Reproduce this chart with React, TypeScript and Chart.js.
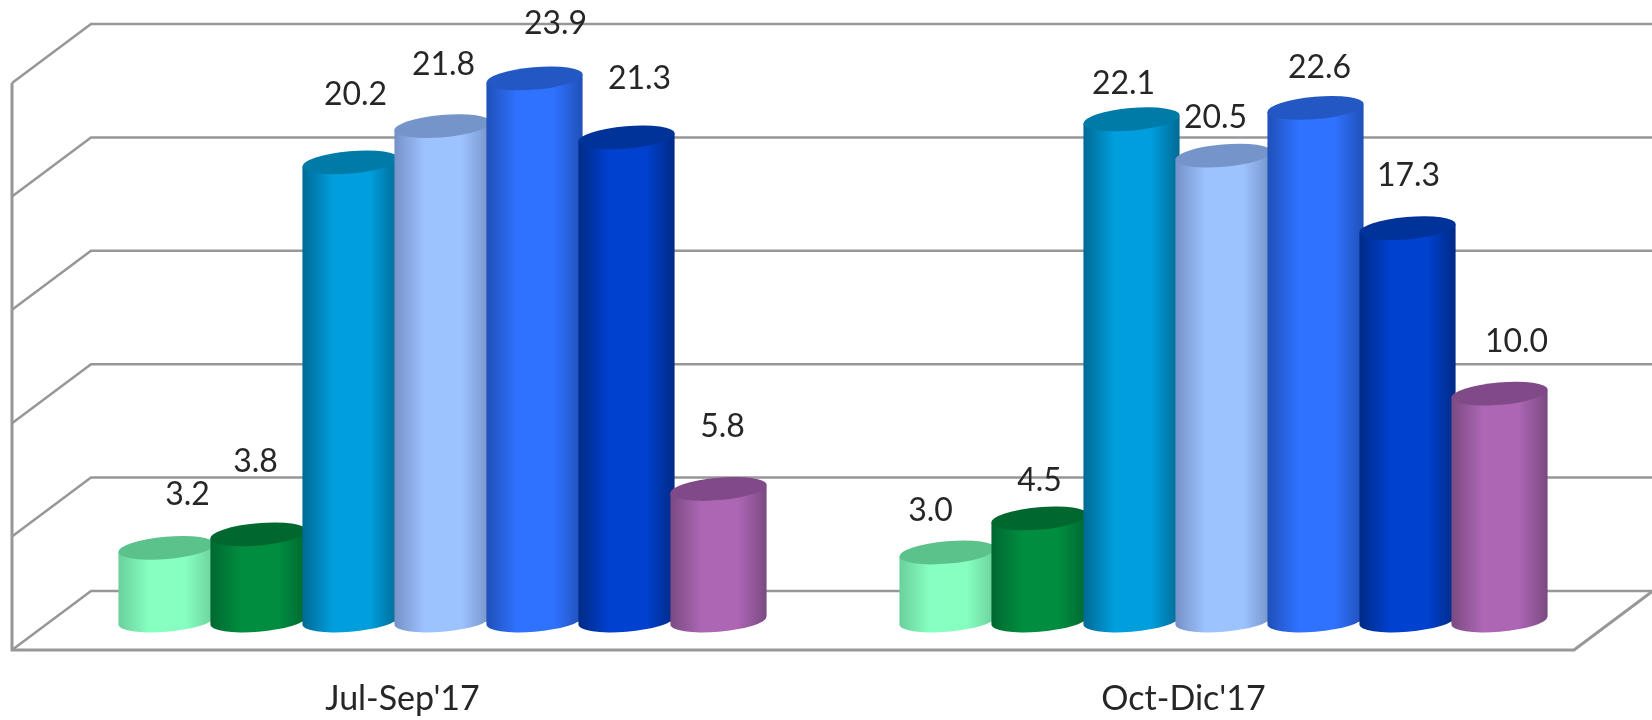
import React, { useEffect, useRef } from "react";
import { Chart, registerables } from "chart.js";

Chart.register(...registerables);

const categories = ["Jul-Sep'17", "Oct-Dic'17"];
const serieA = [3.2, 3.0];
const serieB = [3.8, 4.5];
const serieC = [20.2, 22.1];
const serieD = [21.8, 20.5];
const serieE = [23.9, 22.6];
const serieF = [21.3, 17.3];
const serieG = [5.8, 10.0];
const allSeries = [serieA, serieB, serieC, serieD, serieE, serieF, serieG];

// [centre, edge, cap] colours per series
const palettes = [
  ["#86ffc0", "#6bd09c", "#5cc28b"],
  ["#008d40", "#00682f", "#00682f"],
  ["#009edd", "#006a94", "#007ba8"],
  ["#9dc3ff", "#7592c8", "#7594c9"],
  ["#2f72ff", "#2050b8", "#2358c4"],
  ["#0041d0", "#002a85", "#003399"],
  ["#ac66b4", "#7b4a82", "#7f4a87"],
];

// Hand placement of each value label relative to its cylinder's cap [group][series]
const labelNudges = [
  [[21, -53], [-3, -73], [5, -68], [1, -61], [21, -55], [13, -59], [4, -62]],
  [[-17, -42], [0, -38], [-8, -36], [-8, -38], [4, -40], [1, -52], [17, -52]],
];

const FONT = "Lato, 'Open Sans', sans-serif";
const WALL_DX = 79;
const WALL_DY = -59;
const BAR_DX = 40;
const BAR_DY = -29.5;
const TILT = (-5 * Math.PI) / 180;
const RY = 11.2;

const scene3d = {
  id: "scene3d",
  beforeDatasetsDraw(chart: any) {
    const { ctx, chartArea, scales } = chart;
    const { left, right } = chartArea;
    const yScale = scales.y;
    ctx.save();

    // walls & floor
    ctx.strokeStyle = "#979797";
    ctx.lineWidth = 2.5;
    ctx.lineCap = "butt";
    yScale.ticks.forEach((t: any) => {
      const y = yScale.getPixelForValue(t.value);
      ctx.beginPath();
      ctx.moveTo(left, y);
      ctx.lineTo(left + WALL_DX, y + WALL_DY);
      ctx.lineTo(right + WALL_DX, y + WALL_DY);
      ctx.stroke();
    });
    const y0 = yScale.getPixelForValue(0);
    const yMax = yScale.getPixelForValue(yScale.max);
    ctx.lineWidth = 3;
    ctx.beginPath();
    ctx.moveTo(left, yMax);
    ctx.lineTo(left, y0);
    ctx.lineTo(right, y0);
    ctx.lineTo(right + WALL_DX, y0 + WALL_DY);
    ctx.stroke();

    // cylinders, left to right so that each sits over its left neighbour
    const metas = chart.getSortedVisibleDatasetMetas();
    const labels: any[] = [];
    for (let g = 0; g < categories.length; g++) {
      metas.forEach((meta: any, s: number) => {
        const el = meta.data[g];
        const { x, y, base, width } = el.getProps(["x", "y", "base", "width"], true);
        const cx = x + BAR_DX;
        const top = y + BAR_DY;
        const bottom = base + BAR_DY;
        const halfW = (width * 1.045) / 2;
        // semi-axis so that the tilted ellipse has the wanted horizontal extent
        const cos = Math.cos(TILT);
        const sin = Math.sin(TILT);
        const rx = Math.sqrt((halfW * halfW - RY * RY * sin * sin) / (cos * cos));
        // tangent point of the silhouette
        const t0 = Math.atan(-(RY / rx) * Math.tan(TILT));
        const tx = rx * Math.cos(t0) * cos - RY * Math.sin(t0) * sin;
        const ty = rx * Math.cos(t0) * sin + RY * Math.sin(t0) * cos;
        const [mid, edge, cap] = palettes[s];

        const grad = ctx.createLinearGradient(cx - tx, 0, cx + tx, 0);
        grad.addColorStop(0, edge);
        grad.addColorStop(0.32, mid);
        grad.addColorStop(0.7, mid);
        grad.addColorStop(1, edge);

        ctx.beginPath();
        ctx.moveTo(cx - tx, top - ty);
        ctx.lineTo(cx - tx, bottom - ty);
        ctx.ellipse(cx, bottom, rx, RY, TILT, t0 + Math.PI, t0, true);
        ctx.lineTo(cx + tx, top + ty);
        ctx.closePath();
        ctx.fillStyle = grad;
        ctx.fill();

        ctx.beginPath();
        ctx.ellipse(cx, top, rx, RY, TILT, 0, Math.PI * 2);
        ctx.fillStyle = cap;
        ctx.fill();

        const [nx, ny] = labelNudges[g][s];
        labels.push({
          text: allSeries[s][g].toFixed(1),
          x: cx + nx,
          y: top + ny,
        });
      });
    }

    ctx.fillStyle = "#262626";
    ctx.font = `32px ${FONT}`;
    ctx.textAlign = "center";
    ctx.textBaseline = "middle";
    labels.forEach((l) => ctx.fillText(l.text, l.x, l.y));
    ctx.restore();
    return false;
  },
};

export default function App() {
  const ref = useRef<HTMLCanvasElement>(null);
  useEffect(() => {
    const chart = new Chart(ref.current as HTMLCanvasElement, {
      type: "bar",
      data: {
        labels: categories,
        datasets: allSeries.map((data, i) => ({
          data,
          backgroundColor: palettes[i][0],
          barPercentage: 1,
          categoryPercentage: 0.8246,
        })),
      },
      options: {
        animation: false,
        responsive: false,
        devicePixelRatio: 1,
        layout: { padding: { left: 12, right: 78, top: 83, bottom: 0 } },
        plugins: { legend: { display: false }, tooltip: { enabled: false } },
        scales: {
          x: {
            grid: { display: false },
            border: { display: false },
            ticks: {
              color: "#262626",
              font: { family: FONT, size: 34 },
              padding: 21,
              maxRotation: 0,
            },
            afterFit(scale: any) {
              scale.height = 70;
            },
          },
          y: {
            display: false,
            min: 0,
            max: 25,
            ticks: { stepSize: 5 },
          },
        },
      },
      plugins: [scene3d],
    } as any);
    return () => chart.destroy();
  }, []);
  return (
    <div style={{ position: "fixed", left: 0, top: 0, width: 1652, height: 720, background: "#fff" }}>
      <canvas ref={ref} width={1652} height={720} style={{ display: "block" }} />
    </div>
  );
}
